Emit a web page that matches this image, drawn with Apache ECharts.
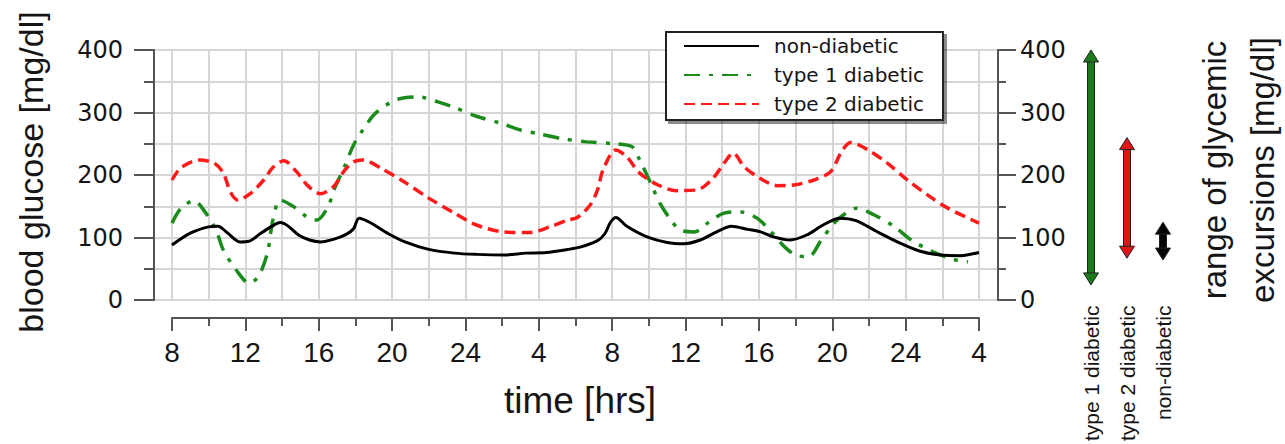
<!DOCTYPE html>
<html><head><meta charset="utf-8">
<script src="https://cdn.jsdelivr.net/npm/echarts@6/dist/echarts.min.js"></script>
<style>html,body{margin:0;padding:0;background:#fff}#c{width:1285px;height:444px}</style>
</head><body><div id="c"></div>
<script>
// ---- data (time in hours from start of day 1; values in mg/dl) ----
const xTickLabels = ['8','12','16','20','24','4','8','12','16','20','24','4'];
const yTickLabels = ['0','100','200','300','400'];
const seriesNames = ['non-diabetic','type 1 diabetic','type 2 diabetic'];

const nonDiabetic = [[8,88],[9,107],[10,117],[10.5,118],[11,108],[11.7,93],[12.2,94],[12.8,106],[13.4,117],[13.9,124],[14.3,119],[14.9,104],[15.5,96],[16.1,93],[16.8,97],[17.5,105],[17.9,114],[18.2,131],[18.8,124],[19.8,106],[20.7,93],[22,81],[23.4,75],[24.6,73],[26.1,72],[27.3,75],[28.4,76],[29.6,81],[30.3,85],[31.2,95],[31.6,106],[31.9,124],[32.2,132],[32.8,118],[33.9,101],[35,92],[35.9,90],[36.8,96],[37.7,109],[38.5,118],[39.4,113],[40.1,109],[40.8,101],[41.7,96],[42.6,104],[43.5,120],[44.4,131],[45.3,127],[46.4,110],[47.7,91],[48.8,78],[49.9,72],[51,71],[52,76]];

const type1 = [[8,123],[8.5,147],[9.2,159],[9.8,141],[10.4,112],[10.8,80],[11.5,48],[12.2,27],[12.7,37],[13.2,75],[13.5,128],[13.9,160],[14.6,150],[15.4,132],[15.9,128],[16.5,149],[16.9,181],[17.4,213],[17.9,248],[18.4,272],[19.1,299],[20.2,320],[21.4,325],[22.5,317],[23.4,308],[24.6,294],[25.9,283],[27,272],[28,266],[29.3,258],[30.6,253],[32.1,250],[33.1,245],[33.5,224],[34.1,187],[34.6,155],[35.2,128],[35.7,112],[36.5,109],[37.2,123],[38.1,139],[39,141],[39.9,131],[40.6,111],[41.4,85],[42,72],[42.7,69],[43.4,96],[44.1,123],[44.6,136],[45.3,147],[46.3,136],[47.4,117],[48.3,96],[49.5,77],[50.6,65],[51.4,61]];

const type2 = [[8,192],[8.5,212],[9.5,224],[10.3,219],[10.8,203],[11.2,172],[11.6,160],[12.3,171],[13,192],[13.5,212],[14.1,223],[14.8,205],[15.4,183],[16.1,170],[16.8,181],[17.4,207],[17.9,221],[18.4,224],[19.5,209],[20.5,192],[22,163],[23.4,139],[24.6,120],[26.1,109],[27.5,108],[28.6,117],[29.6,128],[30.1,132],[30.8,152],[31.2,176],[31.5,208],[32.2,240],[32.8,229],[33.5,203],[34.5,184],[35.5,175],[36.6,176],[37.5,195],[38.1,219],[38.6,235],[39.2,213],[40.1,194],[41,183],[41.9,184],[43,192],[43.9,205],[44.5,237],[45,252],[45.9,241],[47,219],[48.1,192],[49.2,168],[50.3,147],[52,123]];

const rangeCats = ['type 1 diabetic','type 2 diabetic','non-diabetic'];
const rangeLow  = [22, 65, 62];
const rangeHigh = [400, 259, 123];

// ---- styles ----
const GRID = '#d6d6d6', AX = '#555', TXT = '#151515';
const GREEN = '#1b8c1b', RED = '#ff1a1a';
const ARROW_COLORS = ['#1d7a1d', '#e01515', '#050505'];

const chart = echarts.init(document.getElementById('c'), null, {renderer: 'svg'});

function arrowItem(params, api) {
  const i = api.value(0);
  const x = api.coord([i, 0])[0];
  const yLo = api.coord([i, api.value(1)])[1];
  const yHi = api.coord([i, api.value(2)])[1];
  const c = ARROW_COLORS[params.dataIndex];
  const hw = 7.5, hl = 12, sw = 3.5;
  const st = {fill: c, stroke: '#222', lineWidth: 1};
  return {type: 'group', children: [
    {type: 'rect', shape: {x: x - sw, y: yHi + hl - 2, width: 2 * sw, height: (yLo - hl + 2) - (yHi + hl - 2)}, style: st},
    {type: 'polygon', shape: {points: [[x, yHi], [x - hw, yHi + hl], [x + hw, yHi + hl]]}, style: st},
    {type: 'polygon', shape: {points: [[x, yLo], [x - hw, yLo - hl], [x + hw, yLo - hl]]}, style: st}
  ]};
}

const option = {
  animation: false,
  backgroundColor: '#fff',
  grid: [
    {left: 154, right: 287, top: 50, bottom: 144},
    {left: 172, right: 306, top: 50, bottom: 144},
    {left: 172, right: 306, top: 317, height: 1},
    {left: 1073, width: 108, top: 50, bottom: 144}
  ],
  xAxis: [
    {gridIndex: 0, type: 'value', min: 0, max: 1, show: false},
    {gridIndex: 1, type: 'value', min: 8, max: 52, interval: 2,
      axisLine: {show: false}, axisTick: {show: false}, axisLabel: {show: false},
      splitLine: {show: true, lineStyle: {color: GRID, width: 2}}},
    {gridIndex: 2, type: 'value', min: 8, max: 52, interval: 4, position: 'bottom',
      axisLine: {show: true, onZero: false, lineStyle: {color: AX, width: 2}},
      axisTick: {show: true, length: 13, lineStyle: {color: AX, width: 2}},
      minorTick: {show: true, splitNumber: 2, length: 8, lineStyle: {color: AX, width: 2}},
      splitLine: {show: false},
      axisLabel: {margin: 20, fontSize: 28, fontFamily: 'Liberation Sans', color: TXT,
        formatter: v => xTickLabels[Math.round((v - 8) / 4)]}},
    {gridIndex: 3, type: 'category', data: rangeCats,
      axisLine: {show: false}, axisTick: {show: false}, splitLine: {show: false},
      axisLabel: {rotate: 90, interval: 0, margin: 7, fontSize: 21, fontFamily: 'Liberation Sans', color: TXT}}
  ],
  yAxis: [
    {gridIndex: 0, type: 'value', min: 0, max: 400, interval: 100, position: 'left',
      axisLine: {show: true, lineStyle: {color: AX, width: 2}},
      axisTick: {show: true, length: 20, lineStyle: {color: AX, width: 2}},
      minorTick: {show: true, splitNumber: 2, length: 10, lineStyle: {color: AX, width: 2}},
      splitLine: {show: true, lineStyle: {color: GRID, width: 2}},
      minorSplitLine: {show: true, lineStyle: {color: GRID, width: 2}},
      axisLabel: {margin: 31, fontSize: 24, fontFamily: 'DejaVu Sans', color: TXT,
        formatter: v => yTickLabels[Math.round(v / 100)]}},
    {gridIndex: 0, type: 'value', min: 0, max: 400, interval: 100, position: 'right',
      axisLine: {show: true, lineStyle: {color: AX, width: 2}},
      axisTick: {show: true, length: 18, lineStyle: {color: AX, width: 2}},
      minorTick: {show: true, splitNumber: 2, length: 8, lineStyle: {color: AX, width: 2}},
      splitLine: {show: false},
      axisLabel: {margin: 22, fontSize: 24, fontFamily: 'DejaVu Sans', color: TXT,
        formatter: v => yTickLabels[Math.round(v / 100)]}},
    {gridIndex: 1, type: 'value', min: 0, max: 400, show: false, splitLine: {show: false}},
    {gridIndex: 2, type: 'value', min: 0, max: 1, show: false, splitLine: {show: false}},
    {gridIndex: 3, type: 'value', min: 0, max: 400, show: false, splitLine: {show: false}}
  ],
  legend: {
    data: seriesNames, orient: 'vertical', left: 666, top: 32,
    itemWidth: 75, itemHeight: 14, itemGap: 9,
    padding: [4, 19, 6, 17],
    backgroundColor: '#fff', borderColor: '#222', borderWidth: 2, borderRadius: 0,
    shadowColor: 'rgba(0,0,0,0.45)', shadowOffsetX: 3, shadowOffsetY: 3, shadowBlur: 0,
    itemStyle: {opacity: 0},
    textStyle: {fontFamily: 'DejaVu Sans', fontSize: 20, color: TXT, padding: [0, 0, 0, 10]}
  },
  graphic: [
    {type: 'text', x: 31, y: 172, rotation: Math.PI / 2,
      style: {text: 'blood glucose [mg/dl]', fontSize: 34, fontFamily: 'Liberation Sans', fill: TXT, align: 'center', verticalAlign: 'middle'}},
    {type: 'text', x: 580, y: 400,
      style: {text: 'time [hrs]', fontSize: 37, fontFamily: 'Liberation Sans', fill: TXT, align: 'center', verticalAlign: 'middle'}},
    {type: 'text', x: 1238, y: 170, rotation: Math.PI / 2,
      style: {text: 'range of glycemic\nexcursions [mg/dl]', fontSize: 33, lineHeight: 48, fontFamily: 'Liberation Sans', fill: TXT, align: 'center', verticalAlign: 'middle'}}
  ],
  series: [
    {type: 'line', name: seriesNames[0], xAxisIndex: 1, yAxisIndex: 2, data: nonDiabetic,
      smooth: 0.3, symbol: 'none', showSymbol: false, z: 4,
      itemStyle: {color: '#000'}, lineStyle: {color: '#000', width: 3}},
    {type: 'line', name: seriesNames[1], xAxisIndex: 1, yAxisIndex: 2, data: type1,
      smooth: 0.3, symbol: 'none', showSymbol: false, z: 3,
      itemStyle: {color: GREEN}, lineStyle: {color: GREEN, width: 3.5, type: [16, 9, 4, 9]}},
    {type: 'line', name: seriesNames[2], xAxisIndex: 1, yAxisIndex: 2, data: type2,
      smooth: 0.3, symbol: 'none', showSymbol: false, z: 3,
      itemStyle: {color: RED}, lineStyle: {color: RED, width: 3.5, type: [11, 6]}},
    {type: 'custom', name: 'range', xAxisIndex: 3, yAxisIndex: 4, silent: true,
      data: rangeCats.map((c, i) => [i, rangeLow[i], rangeHigh[i]]),
      encode: {x: 0, y: [1, 2]}, renderItem: arrowItem}
  ]
};
chart.setOption(option);
</script></body></html>
